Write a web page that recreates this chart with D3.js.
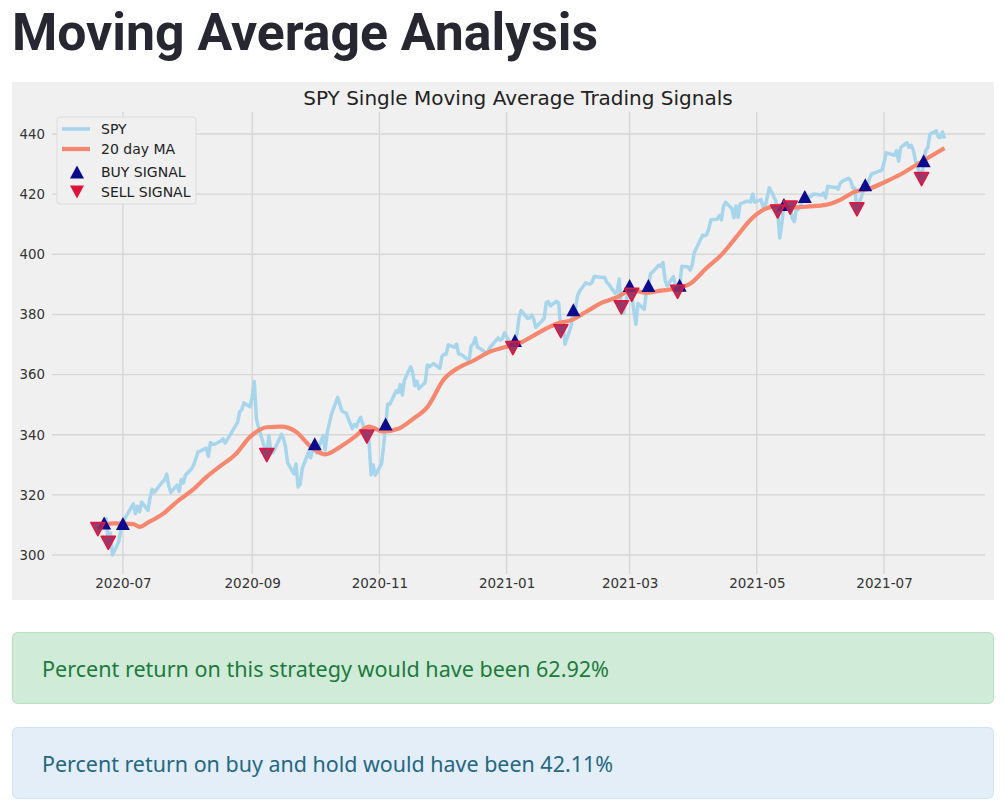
<!DOCTYPE html>
<html>
<head>
<meta charset="utf-8">
<script src="https://cdn.jsdelivr.net/npm/d3@7"></script>
<style>
  body { margin: 0; background: #fff; }
  svg { display: block; }
</style>
</head>
<body>
<script>
/*global d3*/

var width = 1005, height = 808;

// SPY daily close
var spyDates = [
  "2020-06-19","2020-06-22","2020-06-23","2020-06-24","2020-06-25","2020-06-26","2020-06-29","2020-06-30",
  "2020-07-01","2020-07-02","2020-07-06","2020-07-07","2020-07-08","2020-07-09","2020-07-10","2020-07-13",
  "2020-07-14","2020-07-15","2020-07-16","2020-07-17","2020-07-20","2020-07-21","2020-07-22","2020-07-23",
  "2020-07-24","2020-07-27","2020-07-28","2020-07-29","2020-07-30","2020-07-31",
  "2020-08-03","2020-08-04","2020-08-05","2020-08-06","2020-08-07","2020-08-10","2020-08-11","2020-08-12",
  "2020-08-13","2020-08-14","2020-08-17","2020-08-18","2020-08-19","2020-08-20","2020-08-21","2020-08-24",
  "2020-08-25","2020-08-26","2020-08-27","2020-08-28","2020-08-31",
  "2020-09-01","2020-09-02","2020-09-03","2020-09-04","2020-09-08","2020-09-09","2020-09-10","2020-09-11",
  "2020-09-14","2020-09-15","2020-09-16","2020-09-17","2020-09-18","2020-09-21","2020-09-22","2020-09-23",
  "2020-09-24","2020-09-25","2020-09-28","2020-09-29","2020-09-30",
  "2020-10-01","2020-10-02","2020-10-05","2020-10-06","2020-10-07","2020-10-08","2020-10-09","2020-10-12",
  "2020-10-13","2020-10-14","2020-10-15","2020-10-16","2020-10-19","2020-10-20","2020-10-21","2020-10-22",
  "2020-10-23","2020-10-26","2020-10-27","2020-10-28","2020-10-29","2020-10-30",
  "2020-11-02","2020-11-03","2020-11-04","2020-11-05","2020-11-06","2020-11-09","2020-11-10","2020-11-11",
  "2020-11-12","2020-11-13","2020-11-16","2020-11-17","2020-11-18","2020-11-19","2020-11-20","2020-11-23",
  "2020-11-24","2020-11-25","2020-11-27","2020-11-30",
  "2020-12-01","2020-12-02","2020-12-03","2020-12-04","2020-12-07","2020-12-08","2020-12-09","2020-12-10",
  "2020-12-11","2020-12-14","2020-12-15","2020-12-16","2020-12-17","2020-12-18","2020-12-21","2020-12-22",
  "2020-12-23","2020-12-24","2020-12-28","2020-12-29","2020-12-30","2020-12-31",
  "2021-01-04","2021-01-05","2021-01-06","2021-01-07","2021-01-08","2021-01-11","2021-01-12","2021-01-13",
  "2021-01-14","2021-01-15","2021-01-19","2021-01-20","2021-01-21","2021-01-22","2021-01-25","2021-01-26",
  "2021-01-27","2021-01-28","2021-01-29",
  "2021-02-01","2021-02-02","2021-02-03","2021-02-04","2021-02-05","2021-02-08","2021-02-09","2021-02-10",
  "2021-02-11","2021-02-12","2021-02-16","2021-02-17","2021-02-18","2021-02-19","2021-02-22","2021-02-23",
  "2021-02-24","2021-02-25","2021-02-26",
  "2021-03-01","2021-03-02","2021-03-03","2021-03-04","2021-03-05","2021-03-08","2021-03-09","2021-03-10",
  "2021-03-11","2021-03-12","2021-03-15","2021-03-16","2021-03-17","2021-03-18","2021-03-19","2021-03-22",
  "2021-03-23","2021-03-24","2021-03-25","2021-03-26","2021-03-29","2021-03-30","2021-03-31",
  "2021-04-01","2021-04-05","2021-04-06","2021-04-07","2021-04-08","2021-04-09","2021-04-12","2021-04-13",
  "2021-04-14","2021-04-15","2021-04-16","2021-04-19","2021-04-20","2021-04-21","2021-04-22","2021-04-23",
  "2021-04-26","2021-04-27","2021-04-28","2021-04-29","2021-04-30",
  "2021-05-03","2021-05-04","2021-05-05","2021-05-06","2021-05-07","2021-05-10","2021-05-11","2021-05-12",
  "2021-05-13","2021-05-14","2021-05-17","2021-05-18","2021-05-19","2021-05-20","2021-05-21","2021-05-24",
  "2021-05-25","2021-05-26","2021-05-27","2021-05-28",
  "2021-06-01","2021-06-02","2021-06-03","2021-06-04","2021-06-07","2021-06-08","2021-06-09","2021-06-10",
  "2021-06-11","2021-06-14","2021-06-15","2021-06-16","2021-06-17","2021-06-18","2021-06-21","2021-06-22",
  "2021-06-23","2021-06-24","2021-06-25","2021-06-28","2021-06-29","2021-06-30",
  "2021-07-01","2021-07-02","2021-07-06","2021-07-07","2021-07-08","2021-07-09","2021-07-12","2021-07-13",
  "2021-07-14","2021-07-15","2021-07-16","2021-07-19","2021-07-20","2021-07-21","2021-07-22","2021-07-23",
  "2021-07-26","2021-07-27","2021-07-28","2021-07-29","2021-07-30"
];
var spyClose = [
  308.64,310.62,312.05,304.09,307.35,300.05,304.46,308.36,
  310.52,312.23,317.05,313.78,316.18,314.38,317.59,314.84,
  318.92,321.85,320.79,321.72,324.32,325.01,326.86,322.96,
  320.88,323.22,321.17,325.12,323.96,326.52,
  328.79,330.06,332.11,334.33,334.57,335.57,332.80,337.44,
  336.83,336.84,337.91,338.64,337.23,338.28,339.48,342.92,
  344.12,347.57,348.33,350.58,349.31,
  352.60,357.70,345.39,342.57,333.21,339.79,333.89,334.06,
  338.46,340.17,338.82,335.84,330.65,326.97,330.30,322.64,
  323.50,328.73,334.19,332.37,334.89,
  337.04,333.84,339.76,334.93,340.76,343.78,346.85,352.43,
  350.13,347.93,347.50,347.29,342.01,343.38,342.73,344.61,
  345.78,339.39,338.22,326.66,329.98,326.54,
  330.20,336.03,343.54,350.24,350.16,354.56,354.04,356.67,
  353.21,358.10,362.57,360.62,356.28,357.78,355.33,357.46,
  363.22,362.66,363.67,362.06,
  366.02,366.79,366.69,369.85,369.09,370.17,366.85,366.73,
  366.30,364.66,369.59,370.17,372.24,369.18,367.86,367.24,
  367.57,369.00,372.17,371.46,371.99,373.88,
  368.79,371.33,373.55,379.10,381.26,378.69,378.77,379.79,
  378.46,375.70,378.65,383.89,384.24,382.88,384.39,383.79,
  374.41,377.63,370.07,
  376.23,381.55,381.85,386.19,387.71,390.51,390.25,390.08,
  390.71,392.64,392.30,392.39,390.72,390.03,387.03,387.50,
  391.77,382.33,380.36,
  389.58,386.54,381.42,376.70,383.63,381.72,387.17,389.58,
  393.53,394.06,396.41,395.91,397.26,391.48,389.48,392.59,
  389.50,387.52,389.70,395.98,395.78,394.73,396.33,
  400.61,406.36,406.12,406.59,408.52,411.49,411.64,412.86,
  411.45,415.87,417.26,415.21,412.17,416.07,412.27,416.74,
  417.61,417.52,417.40,420.06,417.30,
  418.20,415.62,415.75,419.07,422.12,417.94,414.21,405.41,
  410.28,416.58,415.52,411.94,410.86,415.28,414.94,419.17,
  418.24,419.07,419.29,420.04,
  419.67,420.33,418.77,422.60,422.19,422.28,421.65,423.61,
  424.31,425.26,424.48,422.11,421.97,414.92,420.86,423.11,
  422.60,425.10,426.61,427.47,427.70,428.06,
  430.43,433.72,432.93,434.46,430.92,435.52,437.08,435.59,
  436.24,434.75,431.34,424.97,431.06,434.55,435.46,439.94,
  441.02,439.01,438.83,440.65,438.51
];

// 20 day moving average
var maDates = [
  "2020-06-19","2020-06-26","2020-07-06","2020-07-09","2020-07-13","2020-07-20","2020-07-27","2020-08-03",
  "2020-08-10","2020-08-17","2020-08-24","2020-08-31","2020-09-08","2020-09-15","2020-09-22","2020-09-29",
  "2020-10-06","2020-10-13","2020-10-20","2020-10-27","2020-11-03","2020-11-10","2020-11-17","2020-11-24",
  "2020-12-02","2020-12-09","2020-12-16","2020-12-23","2020-12-31","2021-01-08","2021-01-15","2021-01-25",
  "2021-02-01","2021-02-08","2021-02-16","2021-02-23","2021-03-02","2021-03-09","2021-03-16","2021-03-23",
  "2021-03-30","2021-04-07","2021-04-14","2021-04-21","2021-04-28","2021-05-05","2021-05-12","2021-05-19",
  "2021-05-26","2021-06-03","2021-06-10","2021-06-17","2021-06-24","2021-07-01","2021-07-09","2021-07-16",
  "2021-07-23","2021-07-30"
];
var maValues = [
  309.1,310.5,310.3,309.4,310.8,313.6,317.8,321.4,
  325.9,329.7,333.5,339.3,342.5,342.7,341.0,336.1,
  333.5,335.9,339.2,342.7,341.1,342.0,345.2,349.2,
  358.5,362.3,364.6,367.3,369.1,370.7,373.4,376.9,
  378.1,380.8,384.0,385.7,388.1,387.2,387.9,388.6,
  390.2,395.5,399.8,405.6,411.5,415.1,416.2,415.6,
  415.9,416.4,418.1,420.8,421.8,423.9,426.6,429.5,
  432.4,435.3
];

// signals
var buyDates = ["2020-06-22","2020-07-01","2020-10-01","2020-11-04","2021-01-05","2021-02-02","2021-03-01",
  "2021-03-10","2021-03-25","2021-05-14","2021-05-24","2021-06-22","2021-07-20"];
var buyValues = [310.62,310.52,337.04,343.54,371.33,381.55,389.58,389.58,389.70,416.58,419.17,423.11,431.06];
var sellDates = ["2020-06-19","2020-06-24","2020-09-08","2020-10-26","2021-01-04","2021-01-27","2021-02-25",
  "2021-03-02","2021-03-24","2021-05-11","2021-05-17","2021-06-18","2021-07-19"];
var sellValues = [308.64,304.09,333.21,339.39,368.79,374.41,382.33,386.54,387.52,414.21,415.52,414.92,424.97];

var yTicks = [300, 320, 340, 360, 380, 400, 420, 440];
var xTicks = ["2020-07","2020-09","2020-11","2021-01","2021-03","2021-05","2021-07"];

var legendLabels = ["SPY", "20 day MA", "BUY SIGNAL", "SELL SIGNAL"];

var strategyText = "Percent return on this strategy would have been 62.92%";
var holdText = "Percent return on buy and hold would have been 42.11%";

var parse = d3.timeParse("%Y-%m-%d");
var parseMonth = d3.timeParse("%Y-%m");

var spy = spyDates.map(function (d, i) { return { date: parse(d), value: spyClose[i] }; });
var ma = maDates.map(function (d, i) { return { date: parse(d), value: maValues[i] }; });
var buys = buyDates.map(function (d, i) { return { date: parse(d), value: buyValues[i] }; });
var sells = sellDates.map(function (d, i) { return { date: parse(d), value: sellValues[i] }; });

var svg = d3.select("body").append("svg")
    .attr("width", width)
    .attr("height", height);

// page heading
svg.append("text")
    .attr("x", 12)
    .attr("y", 50)
    .attr("font-family", "Roboto, 'Noto Sans', sans-serif")
    .attr("font-weight", 700)
    .attr("font-size", 52)
    .attr("fill", "#262730")
    .attr("textLength", 586)
    .attr("lengthAdjust", "spacingAndGlyphs")
    .text("Moving Average Analysis");

// figure background
svg.append("rect")
    .attr("x", 12).attr("y", 82)
    .attr("width", 982).attr("height", 518)
    .attr("fill", "#f0f0f0");

var plot = { left: 52, right: 985, top: 112, bottom: 574 };

var x = d3.scaleTime()
    .domain([new Date(2020, 4, 28), new Date(2021, 7, 18, 10)])
    .range([plot.left, plot.right]);

var y = d3.scaleLinear()
    .domain([293.7, 447.3])
    .range([plot.bottom, plot.top]);

var font = "'DejaVu Sans', sans-serif";

// grid
svg.append("g").selectAll("line")
    .data(yTicks).join("line")
    .attr("x1", plot.left).attr("x2", plot.right)
    .attr("y1", function (d) { return y(d); })
    .attr("y2", function (d) { return y(d); })
    .attr("stroke", "#d6d6d6")
    .attr("stroke-width", 1.4);

svg.append("g").selectAll("line")
    .data(xTicks).join("line")
    .attr("x1", function (d) { return x(parseMonth(d)); })
    .attr("x2", function (d) { return x(parseMonth(d)); })
    .attr("y1", plot.top).attr("y2", plot.bottom)
    .attr("stroke", "#d6d6d6")
    .attr("stroke-width", 1.4);

// axes (labels only, like fivethirtyeight)
var yAxis = svg.append("g")
    .attr("transform", "translate(" + 45 + ",0)")
    .call(d3.axisLeft(y).tickValues(yTicks).tickSize(0).tickPadding(0).tickFormat(d3.format("d")));
yAxis.select(".domain").remove();
yAxis.selectAll("text")
    .attr("font-family", font).attr("font-size", 13.3).attr("fill", "#333");

var xAxis = svg.append("g")
    .attr("transform", "translate(0," + 578 + ")")
    .call(d3.axisBottom(x).tickValues(xTicks.map(parseMonth)).tickSize(0).tickPadding(0)
        .tickFormat(d3.timeFormat("%Y-%m")));
xAxis.select(".domain").remove();
xAxis.selectAll("text")
    .attr("font-family", font).attr("font-size", 13.5).attr("fill", "#333");

// title
svg.append("text")
    .attr("x", 518).attr("y", 105)
    .attr("text-anchor", "middle")
    .attr("font-family", font)
    .attr("font-size", 20)
    .attr("fill", "#222")
    .text("SPY Single Moving Average Trading Signals");

var line = d3.line()
    .x(function (d) { return x(d.date); })
    .y(function (d) { return y(d.value); });

svg.append("path")
    .datum(spy)
    .attr("d", line)
    .attr("fill", "none")
    .attr("stroke", "#a6d5ec")
    .attr("stroke-width", 3.5)
    .attr("stroke-linejoin", "round");

svg.append("path")
    .datum(ma)
    .attr("d", line.curve(d3.curveMonotoneX))
    .attr("fill", "none")
    .attr("stroke", "#f8876f")
    .attr("stroke-width", 4.2)
    .attr("stroke-linejoin", "round");

var up = "M0,-6.5L7,6.5L-7,6.5Z";
var down = "M0,6.5L7,-6.5L-7,-6.5Z";

svg.append("g").selectAll("path")
    .data(buys).join("path")
    .attr("transform", function (d) { return "translate(" + x(d.date) + "," + y(d.value) + ")"; })
    .attr("d", up)
    .attr("fill", "#0b0b8c");

svg.append("g").selectAll("path")
    .data(sells).join("path")
    .attr("transform", function (d) { return "translate(" + x(d.date) + "," + y(d.value) + ")"; })
    .attr("d", down)
    .attr("fill", "#922b5f")
    .attr("fill-opacity", 0.92)
    .attr("stroke", "#e0173f")
    .attr("stroke-width", 1.6)
    .attr("stroke-linejoin", "round");

// legend
var legend = svg.append("g");
legend.append("rect")
    .attr("x", 57).attr("y", 117)
    .attr("width", 139).attr("height", 87)
    .attr("rx", 3)
    .attr("fill", "#f0f0f0")
    .attr("stroke", "#dcdcdc");

var rows = [129, 149, 172, 192];
legend.append("line")
    .attr("x1", 62).attr("x2", 90).attr("y1", rows[0]).attr("y2", rows[0])
    .attr("stroke", "#a6d5ec").attr("stroke-width", 3.5);
legend.append("line")
    .attr("x1", 62).attr("x2", 90).attr("y1", rows[1]).attr("y2", rows[1])
    .attr("stroke", "#f8876f").attr("stroke-width", 4.2);
legend.append("path")
    .attr("transform", "translate(77," + rows[2] + ")")
    .attr("d", up).attr("fill", "#0b0b8c");
legend.append("path")
    .attr("transform", "translate(77," + rows[3] + ")")
    .attr("d", down).attr("fill", "#dc143c");

legend.selectAll("text")
    .data(legendLabels).join("text")
    .attr("x", 101)
    .attr("y", function (d, i) { return rows[i] + 5; })
    .attr("font-family", font)
    .attr("font-size", 14)
    .attr("fill", "#222")
    .text(function (d) { return d; });

// result boxes
var boxes = [
  { y: 632, text: strategyText, fill: "#d0ecd8", stroke: "#b5e0c1", color: "#1d7a3c", len: 567 },
  { y: 727, text: holdText, fill: "#e3eef8", stroke: "#d3e3f2", color: "#25677f", len: 571 }
];
boxes.forEach(function (b) {
  svg.append("rect")
      .attr("x", 12.5).attr("y", b.y + 0.5)
      .attr("width", 981).attr("height", 71)
      .attr("rx", 5)
      .attr("fill", b.fill)
      .attr("stroke", b.stroke);
  svg.append("text")
      .attr("x", 42).attr("y", b.y + 45)
      .attr("font-family", "'Noto Sans', 'Open Sans', sans-serif")
      .attr("font-size", 21.5)
      .attr("fill", b.color)
      .attr("textLength", b.len)
      .attr("lengthAdjust", "spacingAndGlyphs")
      .text(b.text);
});
</script>
</body>
</html>
